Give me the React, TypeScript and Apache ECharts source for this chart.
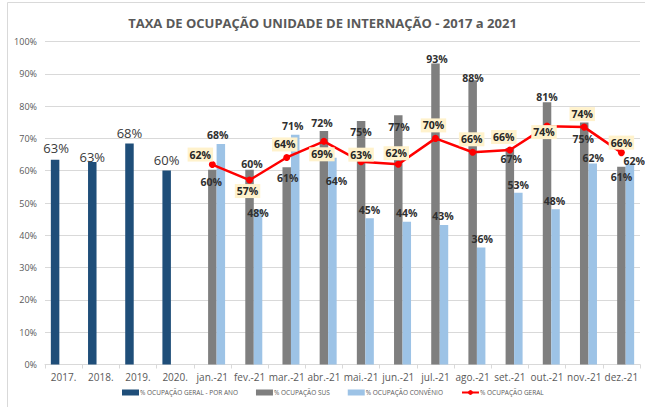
import React, { useEffect, useRef } from "react";
import * as echarts from "echarts";

const categories = ["2017.", "2018.", "2019.", "2020.", "jan.-21", "fev.-21", "mar.-21", "abr.-21", "mai.-21", "jun.-21", "jul.-21", "ago.-21", "set.-21", "out.-21", "nov.-21", "dez.-21"];
const annualValues = [63.4, 62.7, 68.4, 60.1];
const susValues = [60.3, 60.3, 61.1, 72.3, 75.4, 77.2, 93.2, 88.0, 67.0, 81.2, 74.9, 61.2];
const convenioValues = [68.3, 48.0, 71.1, 64.0, 45.3, 44.2, 43.2, 36.2, 53.2, 48.1, 62.2, 62.0];
const geralValues = [61.9, 57.1, 64.1, 69.1, 62.8, 62.0, 70.0, 65.7, 66.4, 73.8, 73.5, 65.6];
const yTicks = { min: 0, max: 100, interval: 10 };

// label placement tweaks (pixels)
const annualOffsets = [[1, 0], [0, 7], [0, 1], [0, 1]];
const susOffsets = [[-1, 23], [2.5, 4.6], [1, 21.7], [-2, 2.7], [0, 22], [0.6, 22], [1.6, 6.3], [0.3, 8.3], [1.5, 21], [0, 5.4], [-1, 27], [0, 21]];
const convOffsets = [[-3, 2], [0, 13.8], [-2.6, 1.3], [4, 34], [0, 2], [0, 1.6], [-1, 2], [1, 1.6], [0, 2.6], [-1, 2], [0.6, 4.6], [4.4, 7]];
const geralOffsets = [[-12, -10], [-2, 11], [-2, -13], [-2, 13], [0, -7], [-2, -11], [-2, -13], [-1, -13], [-6, -13], [-3, 6], [-2, -13], [0, -10]];

const FONT = "'Open Sans', 'Liberation Sans', sans-serif";
const pct = (p: any) => Math.round(p.value) + "%";

function padMonths(vals: number[], offs: number[][]) {
  const out: any[] = [null, null, null, null];
  vals.forEach((v, i) => out.push({ value: v, label: { offset: offs[i] } }));
  return out;
}

export default function App() {
  const ref = useRef<HTMLDivElement>(null);
  useEffect(() => {
    if (!ref.current) return;
    const chart = echarts.init(ref.current, null, { renderer: "svg" });
    const annualData: any[] = annualValues.map((v, i) => ({ value: v, label: { offset: annualOffsets[i] } }));
    for (let i = 0; i < 12; i++) annualData.push(null);
    const barLabel = {
      show: true,
      position: "top",
      distance: 5,
      formatter: pct,
      fontFamily: FONT,
      fontSize: 10.5,
      fontWeight: "bold",
      color: "#303030",
    };
    chart.setOption({
      animation: false,
      backgroundColor: "#ffffff",
      textStyle: { fontFamily: FONT },
      title: {
        text: "TAXA DE OCUPAÇÃO UNIDADE DE INTERNAÇÃO - 2017 a 2021",
        left: "center",
        top: 11,
        textStyle: { fontFamily: FONT, fontSize: 13, fontWeight: "bold", color: "#595959" },
      },
      graphic: [
        {
          type: "rect",
          shape: { x: 7.5, y: 2.5, width: 700, height: 500 },
          style: { fill: "none", stroke: "#D9D9D9", lineWidth: 1 },
          silent: true,
        },
      ],
      legend: {
        bottom: 6,
        left: 117,
        itemWidth: 17,
        itemHeight: 6,
        itemGap: 18,
        textStyle: { fontFamily: FONT, fontSize: 6.5, color: "#595959", padding: [0, 0, 0, -4] },
        data: [
          { name: "% OCUPAÇÃO GERAL - POR ANO", icon: "rect" },
          { name: "% OCUPAÇÃO SUS", icon: "rect" },
          { name: "% OCUPAÇÃO CONVÊNIO", icon: "rect" },
          { name: "% OCUPAÇÃO GERAL" },
        ],
      },
      grid: { left: 45, right: 5, top: 41.5, bottom: 42.5, containLabel: false },
      xAxis: {
        type: "category",
        data: categories,
        axisLine: { lineStyle: { color: "#D9D9D9" } },
        axisTick: { show: true, length: 4, lineStyle: { color: "#D9D9D9" } },
        axisLabel: { fontFamily: FONT, fontSize: 10, color: "#595959", margin: 7, interval: 0 },
      },
      yAxis: {
        type: "value",
        min: yTicks.min,
        max: yTicks.max,
        interval: yTicks.interval,
        axisLine: { show: false },
        axisTick: { show: false },
        splitLine: { lineStyle: { color: "#D9D9D9" } },
        axisLabel: { formatter: "{value}%", fontFamily: FONT, fontSize: 9, color: "#595959", margin: 8 },
      },
      series: [
        {
          name: "% OCUPAÇÃO GERAL - POR ANO",
          type: "bar",
          barWidth: 8.5,
          barGap: "0%",
          itemStyle: { color: "#1F4E79" },
          data: annualData,
          label: { ...barLabel, fontSize: 13, fontWeight: "normal", color: "#3A3A3A" },
        },
        {
          name: "% OCUPAÇÃO SUS",
          type: "bar",
          barWidth: 8.5,
          barGap: "0%",
          itemStyle: { color: "#7F7F7F" },
          data: padMonths(susValues, susOffsets),
          label: barLabel,
        },
        {
          name: "% OCUPAÇÃO CONVÊNIO",
          type: "bar",
          barWidth: 8.5,
          barGap: "0%",
          itemStyle: { color: "#9DC3E6" },
          data: padMonths(convenioValues, convOffsets),
          label: barLabel,
        },
        {
          name: "% OCUPAÇÃO GERAL",
          type: "line",
          z: 5,
          symbol: "circle",
          symbolSize: 7,
          lineStyle: { color: "#FF0000", width: 2.5 },
          itemStyle: { color: "#FF0000" },
          data: padMonths(geralValues, geralOffsets),
          label: {
            show: true,
            position: "inside",
            formatter: pct,
            fontFamily: FONT,
            fontSize: 10.5,
            fontWeight: "bold",
            color: "#262626",
            backgroundColor: "#FFF2CC",
            padding: [2, 2, 1, 2],
          },
        },
      ],
    });
    return () => chart.dispose();
  }, []);
  return <div ref={ref} style={{ position: "fixed", left: 0, top: 0, width: 645, height: 407 }} />;
}
